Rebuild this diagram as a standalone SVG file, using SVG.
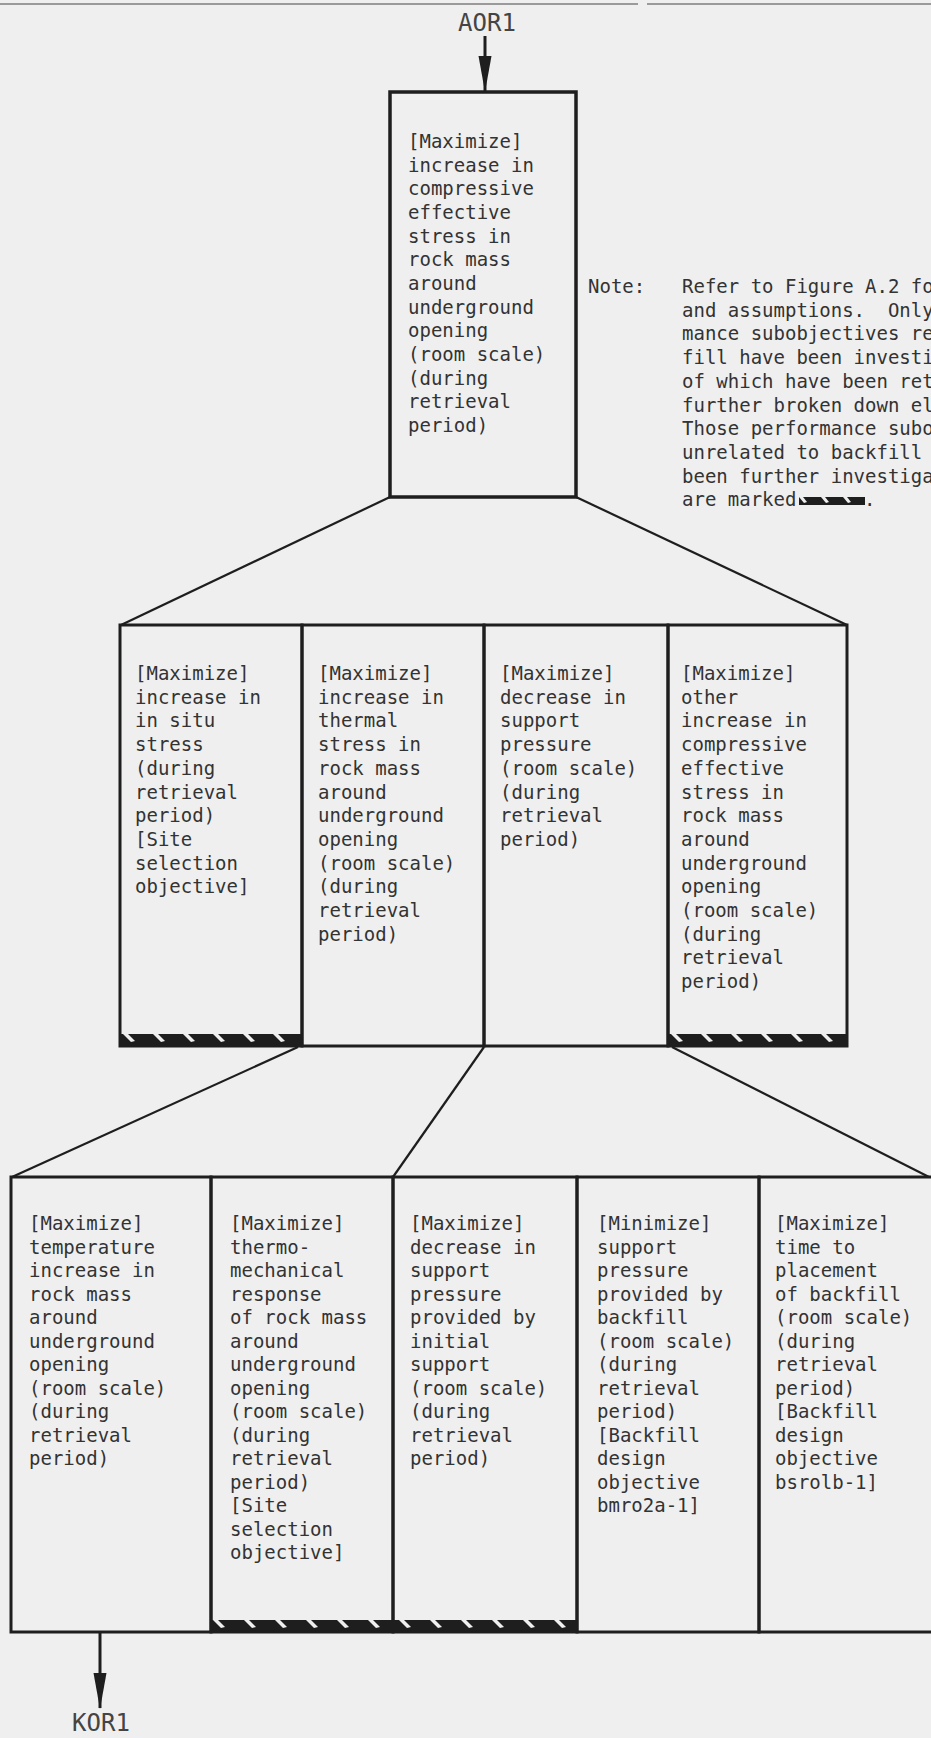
<svg xmlns="http://www.w3.org/2000/svg" width="931" height="1738" viewBox="0 0 931 1738">
<style>
.bg{fill:#efefef}
.box{fill:none;stroke:#1e1e1e;stroke-width:3}
.t{font-family:"DejaVu Sans Mono","Liberation Mono",monospace;font-size:19px;fill:#333}
.lbl{font-family:"DejaVu Sans Mono","Liberation Mono",monospace;font-size:24px;fill:#444;text-anchor:middle}
.con{stroke:#1e1e1e;stroke-width:2.2;fill:none}
.arr{stroke:#1e1e1e;stroke-width:3;fill:none}
</style>
<defs>
<marker id="ah" markerUnits="userSpaceOnUse" markerWidth="36" markerHeight="15" viewBox="0 0 36 15" refX="35" refY="7.5" orient="auto">
<path d="M0,1 L36,7.5 L0,14 Z" fill="#1e1e1e"/>
</marker>
<pattern id="h2" patternUnits="userSpaceOnUse" x="121" y="1034" width="30" height="12">
<rect width="30" height="12" fill="#1e1e1e"/>
<polygon points="2,0 7,0 14,7 10,8" fill="#efefef"/>
</pattern>
<pattern id="h4" patternUnits="userSpaceOnUse" x="669" y="1034" width="30" height="12">
<rect width="30" height="12" fill="#1e1e1e"/>
<polygon points="2,0 7,0 14,7 10,8" fill="#efefef"/>
</pattern>
<pattern id="h3" patternUnits="userSpaceOnUse" x="211" y="1620" width="31" height="12">
<rect width="31" height="12" fill="#1e1e1e"/>
<polygon points="2,0 7,0 14,7 10,8" fill="#efefef"/>
</pattern>
<pattern id="hn" patternUnits="userSpaceOnUse" x="799" y="497" width="22" height="8">
<rect width="22" height="8" fill="#1e1e1e"/>
<polygon points="0,0 4,0 8,5 5,6" fill="#efefef"/>
</pattern>
</defs>
<rect class="bg" x="0" y="0" width="931" height="1738"/>
<g id="page-rule">
<line x1="0" y1="4" x2="638" y2="4" stroke="#9a9a9a" stroke-width="2"/>
<line x1="647" y1="4" x2="931" y2="4" stroke="#9a9a9a" stroke-width="2"/>
</g>

<g id="connectors">
<line class="arr" x1="485" y1="36" x2="485" y2="91" marker-end="url(#ah)"/>
<line class="con" x1="390" y1="497" x2="121" y2="625"/>
<line class="con" x1="576" y1="497" x2="847" y2="625"/>
<line class="con" x1="298" y1="1047" x2="12" y2="1177"/>
<line class="con" x1="484" y1="1047" x2="393" y2="1177"/>
<line class="con" x1="672" y1="1047" x2="929" y2="1177"/>
<line class="arr" x1="100" y1="1633" x2="100" y2="1708" marker-end="url(#ah)"/>
</g>

<g id="label-AOR1"><text class="lbl" x="487" y="31">AOR1</text></g>
<g id="label-KOR1"><text class="lbl" x="101" y="1731">KOR1</text></g>

<g id="node-top">
<rect class="box" x="390" y="92" width="186" height="405" style="stroke-width:3.5"/>
<text class="t" y="148"><tspan x="408">[Maximize]</tspan><tspan x="408" dy="23.66">increase in</tspan><tspan x="408" dy="23.66">compressive</tspan><tspan x="408" dy="23.66">effective</tspan><tspan x="408" dy="23.66">stress in</tspan><tspan x="408" dy="23.66">rock mass</tspan><tspan x="408" dy="23.66">around</tspan><tspan x="408" dy="23.66">underground</tspan><tspan x="408" dy="23.66">opening</tspan><tspan x="408" dy="23.66">(room scale)</tspan><tspan x="408" dy="23.66">(during</tspan><tspan x="408" dy="23.66">retrieval</tspan><tspan x="408" dy="23.66">period)</tspan></text>
</g>

<g id="note">
<text class="t" x="588" y="293">Note:</text>
<text class="t" y="293"><tspan x="682">Refer to Figure A.2 fo</tspan><tspan x="682" dy="23.7">and assumptions.&#160; Only</tspan><tspan x="682" dy="23.7">mance subobjectives re</tspan><tspan x="682" dy="23.7">fill have been investi</tspan><tspan x="682" dy="23.7">of which have been ret</tspan><tspan x="682" dy="23.7">further broken down el</tspan><tspan x="682" dy="23.7">Those performance subo</tspan><tspan x="682" dy="23.7">unrelated to backfill</tspan><tspan x="682" dy="23.7">been further investiga</tspan><tspan x="682" dy="23.7">are marked</tspan></text>
<rect x="799" y="497" width="66" height="8" fill="url(#hn)"/>
<text class="t" x="864" y="506">.</text>
</g>

<g id="node-r2-1">
<rect x="121" y="1034" width="181" height="12" fill="url(#h2)"/>
<rect class="box" x="120" y="625" width="182" height="421"/>
<text class="t" y="680"><tspan x="135">[Maximize]</tspan><tspan x="135" dy="23.7">increase in</tspan><tspan x="135" dy="23.7">in situ</tspan><tspan x="135" dy="23.7">stress</tspan><tspan x="135" dy="23.7">(during</tspan><tspan x="135" dy="23.7">retrieval</tspan><tspan x="135" dy="23.7">period)</tspan><tspan x="135" dy="23.7">[Site</tspan><tspan x="135" dy="23.7">selection</tspan><tspan x="135" dy="23.7">objective]</tspan></text>
</g>
<g id="node-r2-2">
<rect class="box" x="302" y="625" width="182" height="421"/>
<text class="t" y="680"><tspan x="318">[Maximize]</tspan><tspan x="318" dy="23.7">increase in</tspan><tspan x="318" dy="23.7">thermal</tspan><tspan x="318" dy="23.7">stress in</tspan><tspan x="318" dy="23.7">rock mass</tspan><tspan x="318" dy="23.7">around</tspan><tspan x="318" dy="23.7">underground</tspan><tspan x="318" dy="23.7">opening</tspan><tspan x="318" dy="23.7">(room scale)</tspan><tspan x="318" dy="23.7">(during</tspan><tspan x="318" dy="23.7">retrieval</tspan><tspan x="318" dy="23.7">period)</tspan></text>
</g>
<g id="node-r2-3">
<rect class="box" x="484" y="625" width="184" height="421"/>
<text class="t" y="680"><tspan x="500">[Maximize]</tspan><tspan x="500" dy="23.7">decrease in</tspan><tspan x="500" dy="23.7">support</tspan><tspan x="500" dy="23.7">pressure</tspan><tspan x="500" dy="23.7">(room scale)</tspan><tspan x="500" dy="23.7">(during</tspan><tspan x="500" dy="23.7">retrieval</tspan><tspan x="500" dy="23.7">period)</tspan></text>
</g>
<g id="node-r2-4">
<rect x="669" y="1034" width="177" height="12" fill="url(#h4)"/>
<rect class="box" x="668" y="625" width="179" height="421"/>
<text class="t" y="680"><tspan x="681">[Maximize]</tspan><tspan x="681" dy="23.7">other</tspan><tspan x="681" dy="23.7">increase in</tspan><tspan x="681" dy="23.7">compressive</tspan><tspan x="681" dy="23.7">effective</tspan><tspan x="681" dy="23.7">stress in</tspan><tspan x="681" dy="23.7">rock mass</tspan><tspan x="681" dy="23.7">around</tspan><tspan x="681" dy="23.7">underground</tspan><tspan x="681" dy="23.7">opening</tspan><tspan x="681" dy="23.7">(room scale)</tspan><tspan x="681" dy="23.7">(during</tspan><tspan x="681" dy="23.7">retrieval</tspan><tspan x="681" dy="23.7">period)</tspan></text>
</g>

<g id="node-r3-1">
<rect class="box" x="11" y="1177" width="200" height="455"/>
<text class="t" y="1230"><tspan x="29">[Maximize]</tspan><tspan x="29" dy="23.5">temperature</tspan><tspan x="29" dy="23.5">increase in</tspan><tspan x="29" dy="23.5">rock mass</tspan><tspan x="29" dy="23.5">around</tspan><tspan x="29" dy="23.5">underground</tspan><tspan x="29" dy="23.5">opening</tspan><tspan x="29" dy="23.5">(room scale)</tspan><tspan x="29" dy="23.5">(during</tspan><tspan x="29" dy="23.5">retrieval</tspan><tspan x="29" dy="23.5">period)</tspan></text>
</g>
<g id="node-r3-2">
<rect x="212" y="1620" width="365" height="12" fill="url(#h3)"/>
<rect class="box" x="211" y="1177" width="182" height="455"/>
<text class="t" y="1230"><tspan x="230">[Maximize]</tspan><tspan x="230" dy="23.5">thermo-</tspan><tspan x="230" dy="23.5">mechanical</tspan><tspan x="230" dy="23.5">response</tspan><tspan x="230" dy="23.5">of rock mass</tspan><tspan x="230" dy="23.5">around</tspan><tspan x="230" dy="23.5">underground</tspan><tspan x="230" dy="23.5">opening</tspan><tspan x="230" dy="23.5">(room scale)</tspan><tspan x="230" dy="23.5">(during</tspan><tspan x="230" dy="23.5">retrieval</tspan><tspan x="230" dy="23.5">period)</tspan><tspan x="230" dy="23.5">[Site</tspan><tspan x="230" dy="23.5">selection</tspan><tspan x="230" dy="23.5">objective]</tspan></text>
</g>
<g id="node-r3-3">
<rect class="box" x="393" y="1177" width="184" height="455"/>
<text class="t" y="1230"><tspan x="410">[Maximize]</tspan><tspan x="410" dy="23.5">decrease in</tspan><tspan x="410" dy="23.5">support</tspan><tspan x="410" dy="23.5">pressure</tspan><tspan x="410" dy="23.5">provided by</tspan><tspan x="410" dy="23.5">initial</tspan><tspan x="410" dy="23.5">support</tspan><tspan x="410" dy="23.5">(room scale)</tspan><tspan x="410" dy="23.5">(during</tspan><tspan x="410" dy="23.5">retrieval</tspan><tspan x="410" dy="23.5">period)</tspan></text>
</g>
<g id="node-r3-4">
<rect class="box" x="577" y="1177" width="182" height="455"/>
<text class="t" y="1230"><tspan x="597">[Minimize]</tspan><tspan x="597" dy="23.5">support</tspan><tspan x="597" dy="23.5">pressure</tspan><tspan x="597" dy="23.5">provided by</tspan><tspan x="597" dy="23.5">backfill</tspan><tspan x="597" dy="23.5">(room scale)</tspan><tspan x="597" dy="23.5">(during</tspan><tspan x="597" dy="23.5">retrieval</tspan><tspan x="597" dy="23.5">period)</tspan><tspan x="597" dy="23.5">[Backfill</tspan><tspan x="597" dy="23.5">design</tspan><tspan x="597" dy="23.5">objective</tspan><tspan x="597" dy="23.5">bmro2a-1]</tspan></text>
</g>
<g id="node-r3-5">
<rect class="box" x="759" y="1177" width="180" height="455"/>
<text class="t" y="1230"><tspan x="775">[Maximize]</tspan><tspan x="775" dy="23.5">time to</tspan><tspan x="775" dy="23.5">placement</tspan><tspan x="775" dy="23.5">of backfill</tspan><tspan x="775" dy="23.5">(room scale)</tspan><tspan x="775" dy="23.5">(during</tspan><tspan x="775" dy="23.5">retrieval</tspan><tspan x="775" dy="23.5">period)</tspan><tspan x="775" dy="23.5">[Backfill</tspan><tspan x="775" dy="23.5">design</tspan><tspan x="775" dy="23.5">objective</tspan><tspan x="775" dy="23.5">bsrolb-1]</tspan></text>
</g>
</svg>
